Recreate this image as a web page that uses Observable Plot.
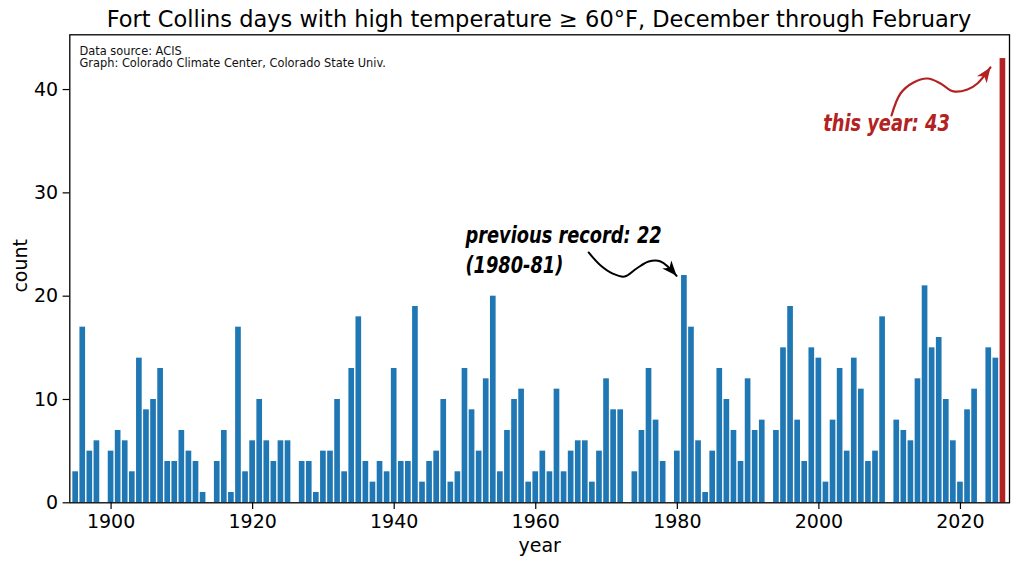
<!DOCTYPE html>
<html>
<head>
<meta charset="utf-8">
<script src="https://cdn.jsdelivr.net/npm/d3@7"></script>
<script src="https://cdn.jsdelivr.net/npm/@observablehq/plot@0.6"></script>
<style>
  html, body { margin: 0; padding: 0; background: #fff; }
  #wrap { width: 1024px; height: 569px; overflow: hidden; background: #fff; }
  #title {
    box-sizing: border-box; height: 30px; padding-top: 8px; padding-left: 69px; padding-right: 15px;
    font-family: "DejaVu Sans", sans-serif; font-size: 22.5px; line-height: 22.5px;
    text-align: center; white-space: nowrap; color: #000; overflow: visible;
  }
  #chart svg { display: block; }
</style>
</head>
<body>
<div id="wrap">
  <div id="title">Fort Collins days with high temperature ≥ 60°F, December through February</div>
  <div id="chart"></div>
</div>
<script>
// ---- data (winter ending year; null = no data) ----
const firstYear = 1895;
const counts = [
  3, 17, 5, 6, null,                          // 1895-1899
  5, 7, 6, 3, 14, 9, 10, 13, 4, 4,            // 1900-1909
  7, 5, 4, 1, null, 4, 7, 1, 17, 3,           // 1910-1919
  6, 10, 6, 4, 6, 6, null, 4, 4, 1,           // 1920-1929
  5, 5, 10, 3, 13, 18, 4, 2, 4, 3,            // 1930-1939
  13, 4, 4, 19, 2, 4, 5, 10, 2, 3,            // 1940-1949
  13, 9, 5, 12, 20, 3, 7, 10, 11, 2,          // 1950-1959
  3, 5, 3, 11, 3, 5, 6, 6, 2, 5,              // 1960-1969
  12, 9, 9, null, 3, 7, 13, 8, 4, null,       // 1970-1979
  5, 22, 17, 6, 1, 5, 13, 10, 7, 4,           // 1980-1989
  12, 7, 8, null, 7, 15, 19, 8, 4, 15,        // 1990-1999
  14, 2, 8, 13, 5, 14, 11, 4, 5, 18,          // 2000-2009
  null, 8, 7, 6, 12, 21, 15, 16, 10, 6,       // 2010-2019
  2, 9, 11, null, 15, 14, 43                  // 2020-2026
];
const currentYear = 2026;
const xTicks = [1900, 1920, 1940, 1960, 1980, 2000, 2020];
const yTicks = [0, 10, 20, 30, 40];
const sourceNote = "Data source: ACIS\nGraph: Colorado Climate Center, Colorado State Univ.";

// annotation texts (data coordinates)
const notesBlack = [
  {year: 1950.07, value: 25.17, text: "previous record: 22"},
  {year: 1950.07, value: 22.23, text: "(1980-81)"}
];
const notesRed = [
  {year: 2000.61, value: 35.97, text: "this year: 43"}
];
// annotation arrow paths (data coordinates)
const arrowBlack = [
  [1967.47, 24.23], [1969.17, 22.97], [1970.86, 22.19], [1972.56, 21.90],
  [1974.25, 22.68], [1975.95, 23.36], [1977.64, 23.36], [1979.90, 21.97]
];
const arrowRed = [
  [2010.26, 37.49], [2011.53, 39.62], [2013.37, 40.69], [2015.35, 41.07],
  [2017.18, 40.59], [2019.02, 39.82], [2020.99, 40.01], [2022.40, 40.59],
  [2024.24, 42.14]
];

const blue = "#1f77b4";
const red = "#b22222";

const table = counts.map((c, i) => ({year: firstYear + i, count: c})).filter(d => d.count != null);
const pastBars = table.filter(d => d.year !== currentYear);
const nowBars = table.filter(d => d.year === currentYear);

function headMarker(len, wid) {
  return (color) => {
    const ns = "http://www.w3.org/2000/svg";
    const m = document.createElementNS(ns, "marker");
    m.setAttribute("viewBox", `${-len - 1} ${-wid / 2 - 1} ${len + 2} ${wid + 2}`);
    m.setAttribute("markerWidth", len + 2);
    m.setAttribute("markerHeight", wid + 2);
    m.setAttribute("markerUnits", "userSpaceOnUse");
    m.setAttribute("refX", 0);
    m.setAttribute("refY", 0);
    m.setAttribute("orient", "auto");
    const p = document.createElementNS(ns, "path");
    p.setAttribute("d", `M${-len},${-wid / 2}L0,0L${-len},${wid / 2}L${-len * 0.72},0Z`);
    p.setAttribute("fill", color);
    p.setAttribute("stroke", "none");
    m.appendChild(p);
    return m;
  };
}

const annFont = "'DejaVu Sans Condensed', 'DejaVu Sans', sans-serif";

function render(markerB, markerR) {
  return Plot.plot({
    width: 1024,
    height: 539,
    marginTop: 4.3,
    marginBottom: 66.7,
    marginLeft: 69.3,
    marginRight: 15,
    style: {fontFamily: "DejaVu Sans", fontSize: "19px", background: "white", color: "black", overflow: "visible"},
    x: {domain: [1894.17, 2026.93]},
    y: {domain: [0, 45.3]},
    marks: [
      Plot.rect(pastBars, {x1: d => d.year - 0.4, x2: d => d.year + 0.4, y1: 0, y2: "count", fill: blue}),
      Plot.rect(nowBars, {x1: d => d.year - 0.4, x2: d => d.year + 0.4, y1: 0, y2: "count", fill: red}),
      Plot.axisX({ticks: xTicks, tickFormat: d => String(d), tickSize: 6.7, tickPadding: 4.5, fontSize: 19, strokeWidth: 1.2, label: null}),
      Plot.axisY({ticks: yTicks, tickFormat: d => String(d), tickSize: 6.7, tickPadding: 5, fontSize: 19, strokeWidth: 1.2, label: null}),
      Plot.frame({stroke: "black", strokeWidth: 1.3}),
      Plot.text(["year"], {frameAnchor: "bottom", dy: 49.4, lineAnchor: "bottom", fontSize: 19}),
      Plot.text(["count"], {frameAnchor: "left", dx: -43.3, dy: -3, rotate: -90, textAnchor: "middle", lineAnchor: "bottom", fontSize: 19}),
      Plot.text([sourceNote], {frameAnchor: "top-left", dx: 9.7, dy: 10.9, lineAnchor: "top", textAnchor: "start", fontSize: 11.4, lineHeight: 1.09, fill: "#111"}),
      Plot.line(arrowBlack, {x: "0", y: "1", curve: "catmull-rom", stroke: "black", strokeWidth: 2, markerEnd: markerB}),
      Plot.line(arrowRed, {x: "0", y: "1", curve: "catmull-rom", stroke: red, strokeWidth: 2.2, markerEnd: markerR}),
      Plot.text(notesBlack, {x: "year", y: "value", text: "text", textAnchor: "start", lineAnchor: "bottom", fontSize: 23, fontWeight: "bold", fontStyle: "italic", fontFamily: annFont, fill: "black"}),
      Plot.text(notesRed, {x: "year", y: "value", text: "text", textAnchor: "start", lineAnchor: "bottom", fontSize: 23, fontWeight: "bold", fontStyle: "italic", fontFamily: annFont, fill: red})
    ]
  });
}

let chart;
try {
  chart = render(headMarker(15, 12), headMarker(15, 12));
} catch (e) {
  chart = render("arrow", "arrow");
}
document.getElementById("chart").appendChild(chart);

// condense the italic annotation lettering (the original uses a condensed face)
chart.querySelectorAll('g[font-style="italic"] text').forEach(t => {
  const w = t.getComputedTextLength();
  if (w > 0) {
    t.setAttribute("textLength", (w * 0.86).toFixed(1));
    t.setAttribute("lengthAdjust", "spacingAndGlyphs");
  }
});
</script>
</body>
</html>
